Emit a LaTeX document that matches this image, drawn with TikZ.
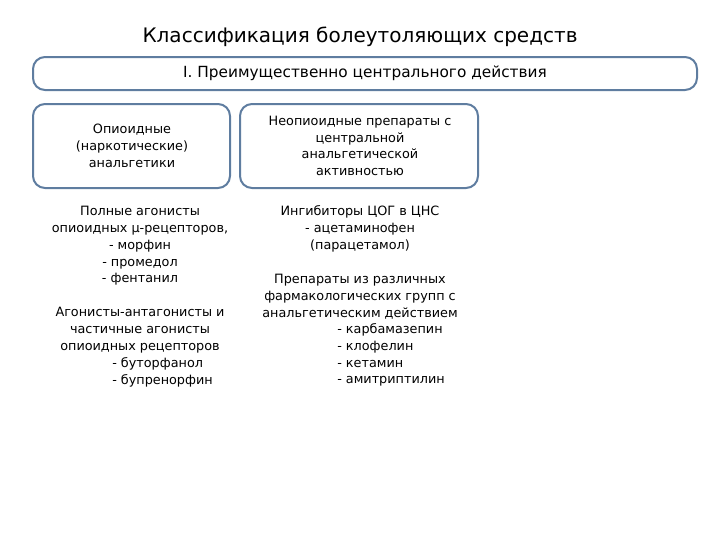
\documentclass[tikz,border=0pt]{standalone}
\usepackage{fontspec}
\setmainfont{DejaVu Sans}
\begin{document}
\begin{tikzpicture}[x=0.75pt,y=-0.75pt,
 box/.style={draw=boxc,line width=1.5pt,rounded corners=9pt,fill=white},
 txt/.style={font=\fontsize{9.6}{12.6}\selectfont,align=center,inner sep=0pt},
 itm/.style={font=\fontsize{9.6}{12.6}\selectfont,anchor=west,inner sep=0pt}]
\definecolor{boxc}{RGB}{95,125,160}
\useasboundingbox (0,0) rectangle (720,540);
\node[font=\fontsize{15}{17}\selectfont,inner sep=0pt] (title) at (360,37) {Классификация болеутоляющих средств};
\draw[box] (33,57) rectangle (697,90);
\node[font=\fontsize{11.5}{13}\selectfont,inner sep=0pt] (top) at (365,73) {I. Преимущественно центрального действия};
\draw[box] (33,104) rectangle (230,188);
\node[txt] (op) at (132,146) {Опиоидные\\(наркотические)\\анальгетики};
\draw[box] (240,104) rectangle (478,188);
\node[txt] (nop) at (360,146) {Неопиоидные препараты с\\центральной\\анальгетической\\активностью};
\node[txt] (l1) at (140,246) {Полные агонисты\\опиоидных μ-рецепторов,\\- морфин\\- промедол\\- фентанил};
\node[txt] (l2) at (140,330) {Агонисты-антагонисты и\\частичные агонисты\\опиоидных рецепторов};
\node[itm] (l3) at (112,364) {- буторфанол};
\node[itm] (l4) at (112,381) {- бупренорфин};
\node[txt] (r1) at (360,229) {Ингибиторы ЦОГ в ЦНС\\- ацетаминофен\\(парацетамол)};
\node[txt] (r2) at (360,297) {Препараты из различных\\фармакологических групп с\\анальгетическим действием};
\node[itm] (r3) at (337,330) {- карбамазепин};
\node[itm] (r4) at (337,347) {- клофелин};
\node[itm] (r5) at (337,364) {- кетамин};
\node[itm] (r6) at (337,381) {- амитриптилин};
\end{tikzpicture}
\end{document}
